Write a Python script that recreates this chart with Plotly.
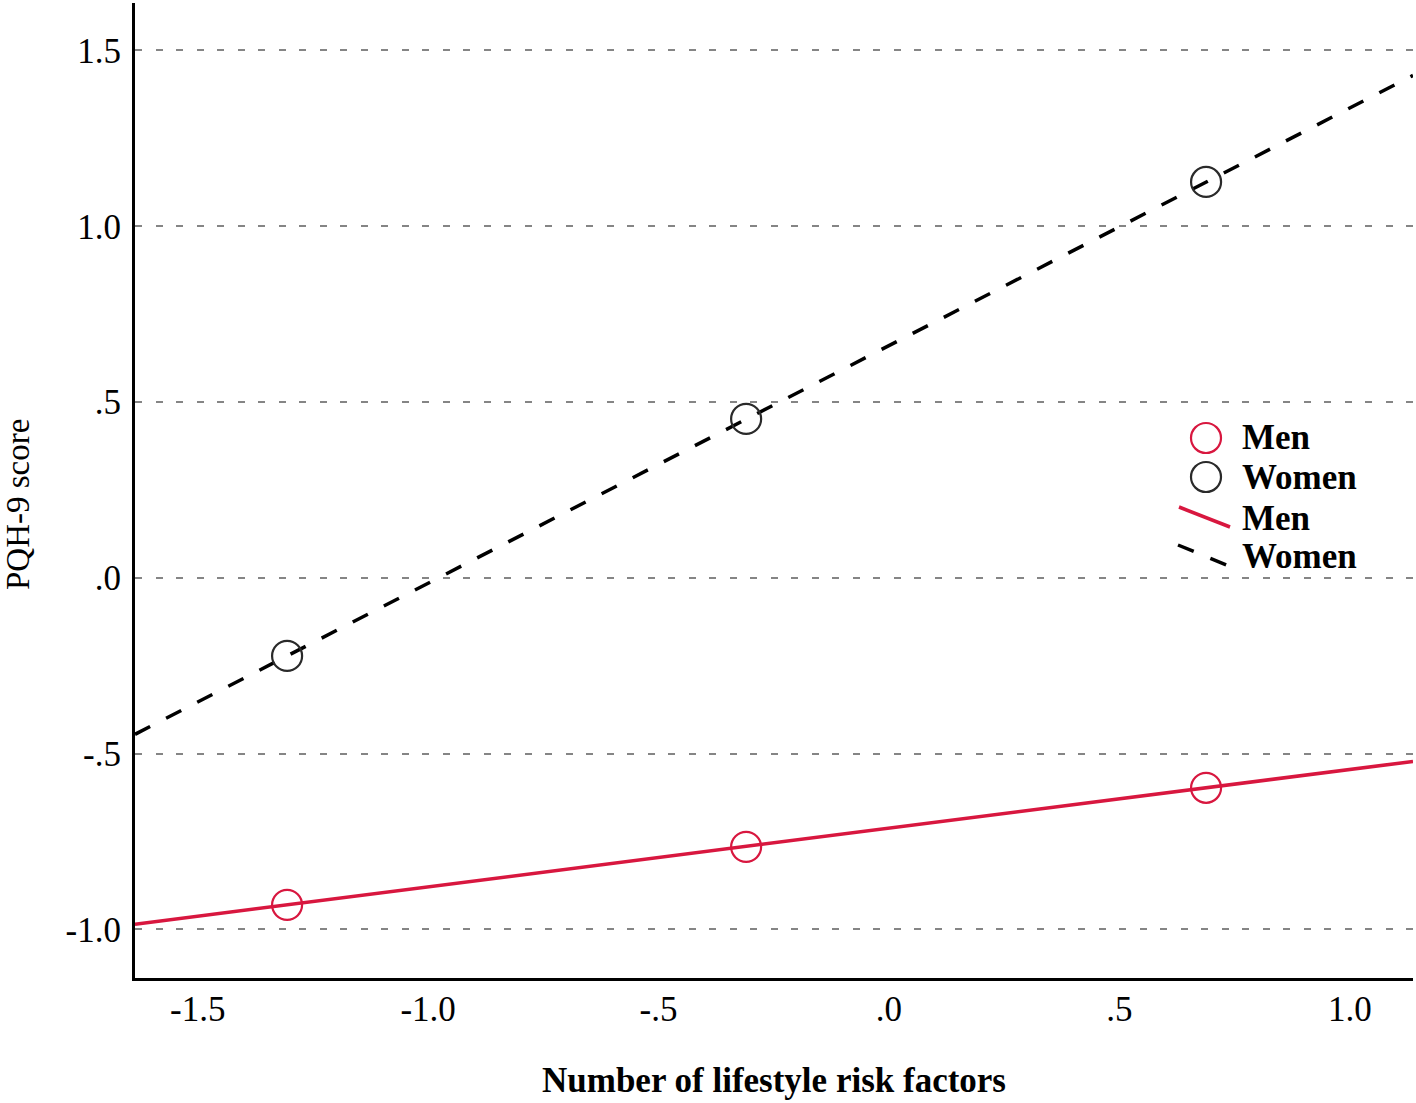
import plotly.graph_objects as go

# Data
x_points = [-1.306, -0.310, 0.688]
men_points = [-0.930, -0.765, -0.597]
women_points = [-0.222, 0.452, 1.126]

x_line = [-1.636, 1.137]
men_line = [-0.985, -0.522]
women_line = [-0.445, 1.429]

x_ticks = [-1.5, -1.0, -0.5, 0.0, 0.5, 1.0]
x_ticklabels = ["-1.5", "-1.0", "-.5", ".0", ".5", "1.0"]
y_ticks = [-1.0, -0.5, 0.0, 0.5, 1.0, 1.5]
y_ticklabels = ["-1.0", "-.5", ".0", ".5", "1.0", "1.5"]

RED = "#d8173f"
BLACK = "#000000"
DARK = "#2a2a2a"
FONT = "Liberation Serif"

fig = go.Figure()
fig.add_trace(go.Scatter(x=x_line, y=women_line, mode="lines",
                         line=dict(color=BLACK, width=3.5, dash="17px,18px"),
                         name="Women", showlegend=False))
fig.add_trace(go.Scatter(x=x_line, y=men_line, mode="lines",
                         line=dict(color=RED, width=3.5),
                         name="Men", showlegend=False))
fig.add_trace(go.Scatter(x=x_points, y=women_points, mode="markers",
                         marker=dict(symbol="circle-open", size=30, color=DARK,
                                     line=dict(width=2.2, color=DARK)),
                         name="Women", showlegend=False))
fig.add_trace(go.Scatter(x=x_points, y=men_points, mode="markers",
                         marker=dict(symbol="circle-open", size=30, color=RED,
                                     line=dict(width=2.2, color=RED)),
                         name="Men", showlegend=False))

W, H = 1416, 1103
L, R, T, B = 135, 3, 3, 125
pw, ph = W - L - R, H - T - B

def px(xp):
    return (xp - L) / pw

def py(yp):
    return (H - B - yp) / ph

shapes = []
# custom legend
shapes.append(dict(type="circle", xref="paper", yref="paper",
                   x0=px(1191), x1=px(1221), y0=py(453), y1=py(423),
                   line=dict(color=RED, width=2.2)))
shapes.append(dict(type="circle", xref="paper", yref="paper",
                   x0=px(1191), x1=px(1221), y0=py(492), y1=py(462),
                   line=dict(color=DARK, width=2.2)))
shapes.append(dict(type="line", xref="paper", yref="paper",
                   x0=px(1179), x1=px(1230), y0=py(507), y1=py(527),
                   line=dict(color=RED, width=3.5)))
shapes.append(dict(type="line", xref="paper", yref="paper",
                   x0=px(1178), x1=px(1229), y0=py(545), y1=py(566),
                   line=dict(color=BLACK, width=3.5, dash="17px,18px")))

annotations = []
for txt, yp in [("Men", 438), ("Women", 477), ("Men", 518), ("Women", 557)]:
    annotations.append(dict(text="<b>%s</b>" % txt, xref="paper", yref="paper",
                            x=px(1240), y=py(yp), xanchor="left", yanchor="middle",
                            showarrow=False, font=dict(family=FONT, size=35, color=BLACK)))
# y-axis title
annotations.append(dict(text="PQH-9 score", xref="paper", yref="paper",
                        x=px(18), y=py(505), xanchor="center", yanchor="middle",
                        textangle=-90, showarrow=False,
                        font=dict(family=FONT, size=33, color=BLACK)))

fig.update_layout(
    width=W, height=H,
    margin=dict(l=L, r=R, t=T, b=B),
    paper_bgcolor="white", plot_bgcolor="white",
    font=dict(family=FONT, color=BLACK),
    shapes=shapes, annotations=annotations,
    showlegend=False,
)
fig.update_xaxes(range=[-1.636, 1.137], tickvals=x_ticks, ticktext=x_ticklabels,
                 showgrid=False, zeroline=False, showline=True, linecolor=BLACK, linewidth=3,
                 ticks="", tickfont=dict(family=FONT, size=35, color=BLACK),
                 ticklabelstandoff=-2,
                 title=dict(text="<b>Number of lifestyle risk factors</b>", standoff=40,
                            font=dict(family=FONT, size=35, color=BLACK)))
fig.update_yaxes(range=[-1.138, 1.635], tickvals=y_ticks, ticktext=y_ticklabels,
                 showgrid=True, gridcolor="#858585", gridwidth=2, griddash="7px,13.5px",
                 zeroline=False, showline=True, linecolor=BLACK, linewidth=3,
                 ticks="", tickfont=dict(family=FONT, size=35, color=BLACK),
                 ticklabelstandoff=4)

fig.write_html("out.html", config={"displayModeBar": False},
               post_script="document.body.style.margin='0px';")
